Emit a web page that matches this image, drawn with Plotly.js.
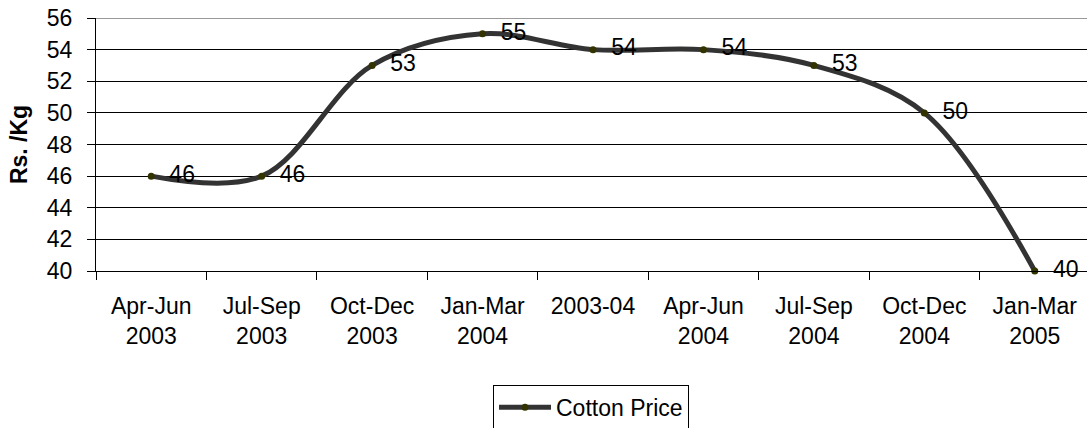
<!DOCTYPE html>
<html>
<head>
<meta charset="utf-8">
<script src="https://cdn.plot.ly/plotly-3.0.1.min.js"></script>
<style>
html,body{margin:0;padding:0;overflow:hidden;background:#fff;width:1087px;height:428px;}
#chart{width:1090px;height:428px;}
</style>
</head>
<body>
<div id="chart"></div>
<script>
var categories = ["Apr-Jun 2003","Jul-Sep 2003","Oct-Dec 2003","Jan-Mar 2004","2003-04","Apr-Jun 2004","Jul-Sep 2004","Oct-Dec 2004","Jan-Mar 2005"];
var tickLabels = ["Apr-Jun<br>2003","Jul-Sep<br>2003","Oct-Dec<br>2003","Jan-Mar<br>2004","2003-04<br> ","Apr-Jun<br>2004","Jul-Sep<br>2004","Oct-Dec<br>2004","Jan-Mar<br>2005"];
var cottonPrice = [46,46,53,55,54,54,53,50,40];
var seriesName = "Cotton Price";
var yTitle = "Rs. /Kg";

var FONT = "'Liberation Sans', Arial, sans-serif";

var trace = {
  x: categories,
  y: cottonPrice,
  type: "scatter",
  mode: "lines+markers+text",
  name: seriesName,
  text: cottonPrice.map(function(v){ return "\u00a0\u00a0" + v; }),
  textposition: "middle right",
  textfont: {family: FONT, size: 23, color: "#000"},
  line: {color: "#333333", width: 5, shape: "spline", smoothing: 1},
  marker: {color: "#333300", size: 7},
  cliponaxis: false
};

var layout = {
  width: 1090, height: 428,
  margin: {l: 96, r: 0, t: 18, b: 157, autoexpand: false},
  paper_bgcolor: "#fff", plot_bgcolor: "#fff",
  font: {family: FONT, size: 23, color: "#000"},
  showlegend: true,
  legend: {
    x: 0.498, xanchor: "center", y: -0.45, yanchor: "top",
    orientation: "h",
    bordercolor: "#000", borderwidth: 1,
    font: {family: FONT, size: 23, color: "#000"},
    itemwidth: 52
  },
  xaxis: {
    type: "category",
    tickmode: "array", tickvals: categories, ticktext: tickLabels,
    tickson: "boundaries",
    ticks: "outside", ticklen: 8, tickcolor: "#000",
    showline: true, linecolor: "#000", linewidth: 1,
    showgrid: false, zeroline: false,
    tickangle: 0,
    ticklabelstandoff: 14,
    tickfont: {family: FONT, size: 23, color: "#000"},
    range: [-0.5, 8.5]
  },
  yaxis: {
    range: [40, 56], dtick: 2, tick0: 40,
    ticks: "outside", ticklen: 8, tickcolor: "#000",
    showline: true, linecolor: "#000", linewidth: 1,
    showgrid: true, gridcolor: "#000", gridwidth: 1,
    zeroline: false,
    tickfont: {family: FONT, size: 23, color: "#000"},
    ticklabelstandoff: 10,
    title: {text: "<b>" + yTitle + "</b>", font: {family: FONT, size: 23, color: "#000"}, standoff: 12}
  },
  shapes: [{
    type: "line", xref: "paper", yref: "y", x0: 0, x1: 1, y0: 56, y1: 56,
    line: {color: "#999999", width: 2}
  }]
};

Plotly.newPlot("chart", [trace], layout, {displayModeBar: false, staticPlot: true});
</script>
</body>
</html>
